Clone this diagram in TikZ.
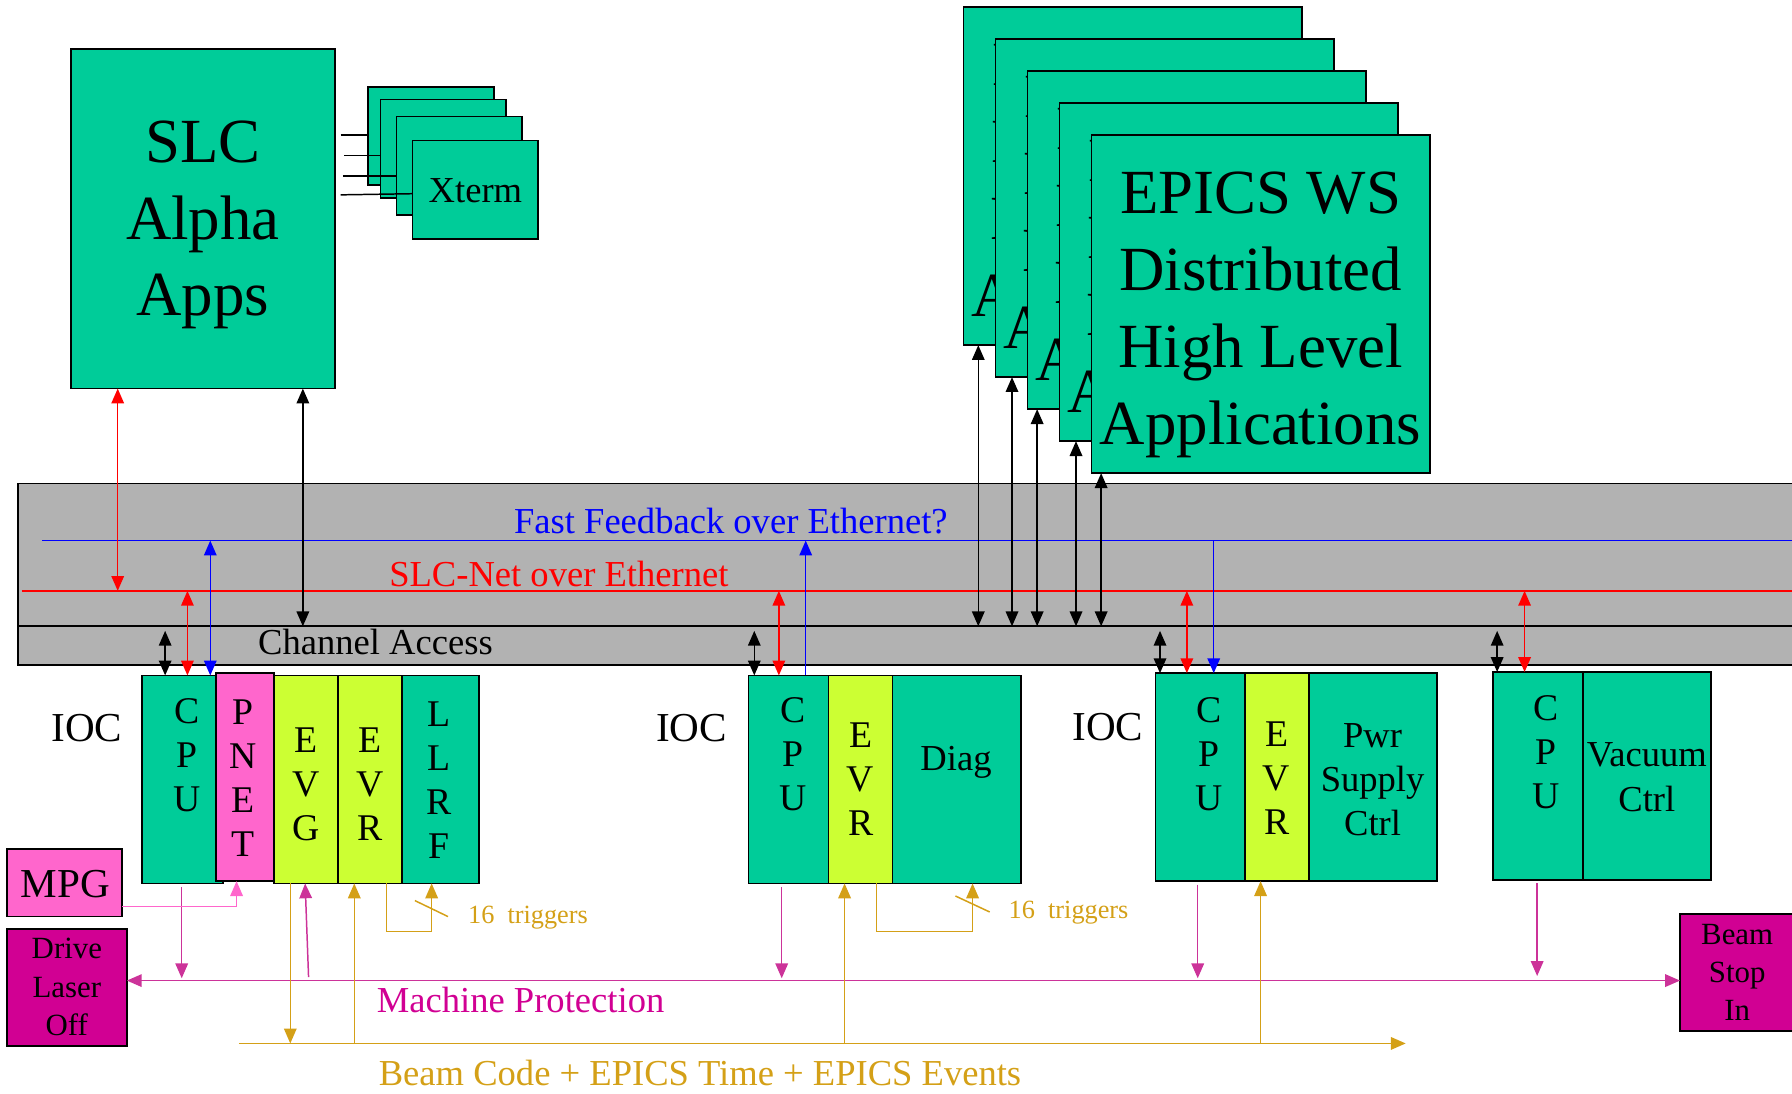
\documentclass[tikz,border=0pt]{standalone}
\usepackage{fontspec}
\setmainfont{Liberation Serif}
\usetikzlibrary{arrows.meta}
\definecolor{teal2}{HTML}{00CC99}
\definecolor{lime2}{HTML}{CCFF33}
\definecolor{pink2}{HTML}{FF66CC}
\definecolor{mag2}{HTML}{D10093}
\definecolor{magline}{HTML}{CC3399}
\definecolor{gold2}{HTML}{D4A017}
\definecolor{grey2}{HTML}{B2B2B2}
\newcommand\myfs[2]{\fontsize{#1}{#2}\selectfont}
\begin{document}
\begin{tikzpicture}[x=1pt,y=-1pt,
 box/.style={draw=black,line width=1.6pt,inner sep=0pt,outer sep=0pt,anchor=north west},
 txt/.style={inner sep=0pt,outer sep=0pt,align=center},
 stack/.style={txt,font=\myfs{33}{38.5}},
 cn/.style={line width=1.3pt},
 tipA/.style={cn,-{Triangle[length=13pt,width=11pt]}},
 dtipA/.style={cn,{Triangle[length=13pt,width=11pt]}-{Triangle[length=13pt,width=11pt]}},
]
\useasboundingbox (0,0) rectangle (1568,957);
\clip (0,0) rectangle (1568,957);

% ---------- bus ----------
\node[box,fill=grey2,minimum width=1570pt,minimum height=159pt] (bus) at (16,423) {};
\coordinate (blueY) at (0,473);
\coordinate (redY) at (0,517);
\coordinate (caY) at (0,548);
\coordinate (mpY) at (0,858);
\coordinate (bcY) at (0,913);
\coordinate (blueS) at (37,473);
\coordinate (blueE) at (1590,473);
\coordinate (redS) at (19,517);
\coordinate (redE) at (1590,517);
\draw[line width=1.6pt] (bus.west |- caY) -- (bus.east |- caY);
\draw[blue,cn] (blueS) -- (blueE);
\draw[red,cn] (redS) -- (redE);
\node[txt,anchor=base,text=blue,font=\myfs{32}{38}] (tff) at (639.5,467) {Fast Feedback over Ethernet?};
\node[txt,anchor=base,text=red,font=\myfs{32}{38}] (tsn) at (489,513) {SLC-Net over Ethernet};
\node[txt,anchor=base,font=\myfs{32}{38}] (tca) at (328.5,573) {Channel Access};

% ---------- SLC + Xterms ----------
\node[box,fill=teal2,minimum width=231pt,minimum height=297pt] (slc) at (62,43) {};
\node[txt,anchor=north,font=\myfs{55}{67}] (slct) at (177.5,106) {SLC\\Alpha\\Apps};
\node[box,fill=teal2,minimum width=110pt,minimum height=86pt] (x1) at (322,76) {};
\node[box,fill=teal2,minimum width=110pt,minimum height=86pt] (x2) at (333,87) {};
\node[box,fill=teal2,minimum width=110pt,minimum height=86pt] (x3) at (347,102) {};
\node[box,fill=teal2,minimum width=110pt,minimum height=86pt] (x4) at (361,123) {};
\node[txt,anchor=base,font=\myfs{32}{38}] (xt) at (416,177.5) {Xterm};
\coordinate (s1) at (298,118);
\coordinate (s2) at (301,136);
\coordinate (s3) at (300,154);
\coordinate (s4) at (298,170.5);
\draw[cn] (s1) -- (x1.west |- s1);
\draw[cn] (s2) -- (x2.west |- s2);
\draw[cn] (s3) -- (x3.west |- s3);
\draw[cn] (s4) -- (x4.west |- 0,169.5);

% ---------- EPICS stack ----------
\foreach \i/\x/\y in {1/843/6,2/871/34,3/899/62,4/927/90,5/955/118}{
  \node[box,fill=teal2,minimum width=296pt,minimum height=296pt] (e\i) at (\x,\y) {};
  \node[txt,anchor=north,font=\myfs{55}{67.5}] (et\i) at ([yshift=-32pt]e\i.north) {EPICS WS\\Distributed\\High Level\\Applications};
}

% ---------- IOC boxes ----------
\node[box,fill=teal2,minimum width=71pt,minimum height=182pt] (cpu1) at (124,591) {};
\node[box,fill=pink2,minimum width=51pt,minimum height=182pt] (pnet) at (189,589) {};
\node[box,fill=lime2,minimum width=56pt,minimum height=182pt] (evg) at (240,591) {};
\node[box,fill=lime2,minimum width=56pt,minimum height=182pt] (evr1) at (296,591) {};
\node[box,fill=teal2,minimum width=67pt,minimum height=182pt] (llrf) at (352,591) {};
\node[box,fill=teal2,minimum width=70pt,minimum height=182pt] (cpu2) at (655,591) {};
\node[box,fill=lime2,minimum width=56pt,minimum height=182pt] (evr2) at (725,591) {};
\node[box,fill=teal2,minimum width=112pt,minimum height=182pt] (diag) at (781,591) {};
\node[box,fill=teal2,minimum width=78pt,minimum height=182pt] (cpu3) at (1011,589) {};
\node[box,fill=lime2,minimum width=56pt,minimum height=182pt] (evr3) at (1089,589) {};
\node[box,fill=teal2,minimum width=112pt,minimum height=182pt] (pwr) at (1145,589) {};
\node[box,fill=teal2,minimum width=79pt,minimum height=182pt] (cpu4) at (1306,588) {};
\node[box,fill=teal2,minimum width=112pt,minimum height=182pt] (vac) at (1385,588) {};
\node[box,fill=pink2,minimum width=101pt,minimum height=59pt] (mpg) at (6,743) {};
\node[box,fill=mag2,minimum width=105pt,minimum height=102pt] (dlo) at (6,813) {};
\node[box,fill=mag2,minimum width=100pt,minimum height=102pt] (bsi) at (1470,800) {};

\node[stack] (cpu1t) at (164,661) {C\\P\\U};
\node[stack] (pnett) at (213,681) {P\\N\\E\\T};
\node[stack] (evgt) at (267.5,686) {E\\V\\G};
\node[stack] (evr1t) at (323.5,686) {E\\V\\R};
\node[stack] (llrft) at (384,683) {L\\L\\R\\F};
\node[stack] (cpu2t) at (694,660) {C\\P\\U};
\node[stack] (evr2t) at (753,682) {E\\V\\R};
\node[stack] (cpu3t) at (1058,660) {C\\P\\U};
\node[stack] (evr3t) at (1117,681) {E\\V\\R};
\node[stack] (cpu4t) at (1353,658) {C\\P\\U};
\node[txt,anchor=base,font=\myfs{32}{38}] (diagt) at (836.5,674.5) {Diag};
\node[txt,anchor=north,font=\myfs{32}{38.5}] (pwrt) at (1201,633) {Pwr\\Supply\\Ctrl};
\node[txt,anchor=north,font=\myfs{32}{39}] (vact) at (1441,650) {Vacuum\\Ctrl};
\node[txt,anchor=base,font=\myfs{36}{40}] (mpgt) at (57,785.5) {MPG};
\node[txt,anchor=north,font=\myfs{27}{33.6}] (dlot) at (58.5,821) {Drive\\Laser\\Off};
\node[txt,anchor=north,font=\myfs{27}{33.5}] (bsit) at (1520,808.5) {Beam\\Stop\\In};
\node[txt,anchor=base,font=\myfs{36}{40}] (ioc1) at (76,649) {IOC};
\node[txt,anchor=base,font=\myfs{36}{40}] (ioc2) at (605,649) {IOC};
\node[txt,anchor=base,font=\myfs{36}{40}] (ioc3) at (969.5,648) {IOC};

% ---------- network arrows ----------
\draw[dtipA,red] (slc.south -| 103,0) -- (redY -| 103,0);
\draw[dtipA] (slc.south -| 265,0) -- (caY -| 265,0);
\foreach \i/\x in {1/856,2/885.5,3/907.5,4/941.5,5/963.5}{
  \draw[dtipA] (e\i.south -| \x,0) -- (caY -| \x,0);
}
% IOC1
\draw[dtipA,shorten <=4pt] (caY -| 144.5,0) -- (cpu1.north -| 144.5,0);
\draw[dtipA,red] (redY -| 164,0) -- (cpu1.north -| 164,0);
\draw[dtipA,blue] (blueY -| 184,0) -- (cpu1.north -| 184,0);
% IOC2
\draw[dtipA,shorten <=4pt] (caY -| 660,0) -- (cpu2.north -| 660,0);
\draw[dtipA,red] (redY -| 681.5,0) -- (cpu2.north -| 681.5,0);
\draw[tipA,blue] (cpu2.north -| 705,0) -- (blueY -| 705,0);
% IOC3
\draw[dtipA,shorten <=4pt] (caY -| 1015,0) -- (cpu3.north -| 1015,0);
\draw[dtipA,red] (redY -| 1038.5,0) -- (cpu3.north -| 1038.5,0);
\draw[tipA,blue] (blueY -| 1062,0) -- (cpu3.north -| 1062,0);
% IOC4
\draw[dtipA,shorten <=4pt] (caY -| 1310,0) -- (cpu4.north -| 1310,0);
\draw[dtipA,red] (redY -| 1334,0) -- (cpu4.north -| 1334,0);

% ---------- machine protection ----------
\draw[dtipA,magline] (dlo.east |- mpY) -- (bsi.west |- mpY);
\draw[tipA,magline,shorten <=3pt,shorten >=2pt] (cpu1.south -| 159,0) -- (mpY -| 159,0);
\draw[tipA,magline,shorten <=3pt,shorten >=2pt] (cpu2.south -| 684,0) -- (mpY -| 684,0);
\draw[tipA,magline,shorten <=3pt,shorten >=2pt] (cpu3.south -| 1048,0) -- (mpY -| 1048,0);
\draw[tipA,magline,shorten <=3pt,shorten >=4pt] (cpu4.south -| 1345,0) -- (mpY -| 1345,0);
\coordinate (mpup) at (270,855);
\draw[tipA,magline] (mpup) -- (evg.south -| 267,0);
\draw[tipA,pink2] (mpg.east |- 0,793) -| (pnet.south -| 207,0);
\node[txt,anchor=base,text=mag2,font=\myfs{32}{38}] (tmp) at (455.5,885.5) {Machine Protection};

% ---------- timing ----------
\coordinate (bcS) at (209,913);
\coordinate (bcE) at (1230,913);
\draw[tipA,gold2] (bcS) -- (bcE);
\draw[tipA,gold2] (evg.south -| 254,0) -- (bcY -| 254,0);
\draw[tipA,gold2] (bcY -| 310,0) -- (evr1.south -| 310,0);
\draw[tipA,gold2] (bcY -| 739,0) -- (evr2.south -| 739,0);
\draw[tipA,gold2] (bcY -| 1103,0) -- (evr3.south -| 1103,0);
\draw[tipA,gold2] (evr1.south -| 338,0) |- (377.7,815) -- (llrf.south -| 377.7,0);
\draw[tipA,gold2] (evr2.south -| 767,0) |- (851,815) -- (diag.south -| 851,0);
\draw[cn,gold2] (363,788) -- (392,802);
\draw[cn,gold2] (836,784) -- (866,798);
\node[txt,anchor=base,text=gold2,font=\myfs{23}{28}] (trg1) at (462,808) {16\ \ triggers};
\node[txt,anchor=base,text=gold2,font=\myfs{23}{28}] (trg2) at (935,804) {16\ \ triggers};
\node[txt,anchor=base,text=gold2,font=\myfs{32}{38}] (tbc) at (612.5,949.5) {Beam Code + EPICS Time + EPICS Events};
\end{tikzpicture}
\end{document}
